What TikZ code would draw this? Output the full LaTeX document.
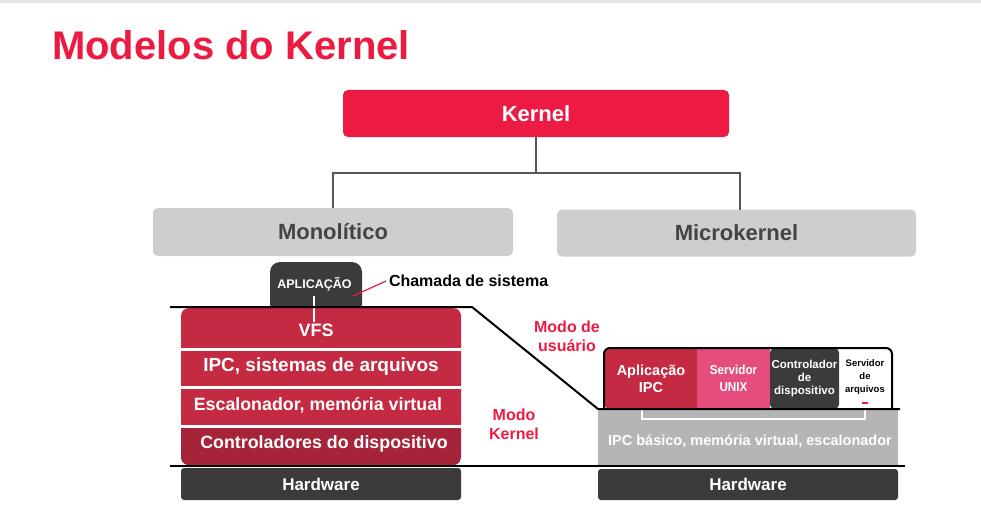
\documentclass[tikz,border=0pt]{standalone}
\usepackage{fontspec}
\setmainfont{Liberation Sans}
\newfontfamily\narrowfont[FakeStretch=0.9]{Liberation Sans}
\usetikzlibrary{calc}
\definecolor{titlered}{HTML}{EC1B42}
\definecolor{kernelred}{HTML}{ED1A43}
\definecolor{boxgray}{HTML}{CECECE}
\definecolor{textgray}{HTML}{444444}
\definecolor{conngray}{HTML}{555555}
\definecolor{stackred}{HTML}{C52A43}
\definecolor{stackdark}{HTML}{A6243A}
\definecolor{darkbox}{HTML}{3B3B3B}
\definecolor{pinkcell}{HTML}{E54E7C}
\definecolor{ipcgray}{HTML}{B5B5B5}
\definecolor{toplinegray}{HTML}{E6E6E6}
\newcommand{\fsz}[2]{\fontsize{#1}{#2}\selectfont}
\begin{document}
\begin{tikzpicture}[x=1pt,y=-1pt,
  every node/.style={inner sep=0pt, outer sep=0pt},
  catbox/.style={fill=boxgray, rounded corners=5, text=textgray, font=\bfseries\fsz{22}{26}},
  conn/.style={draw=conngray, line width=1.8pt},
  rowtext/.style={text=white, font=\bfseries\fsz{19}{22}},
  hwbox/.style={fill=darkbox, rounded corners=3, text=white, font=\bfseries\fsz{17}{20}},
  modetext/.style={text=titlered, align=center, font=\bfseries\fsz{16}{19}},
  cell/.style={minimum height=60, align=center},
  sepline/.style={draw=white, line width=3pt},
  layerline/.style={draw=black, line width=2pt}
]
\useasboundingbox (0,0) rectangle (981,508);
\fill[toplinegray] (0,0) rectangle (981,3);

% title
\node[anchor=base west, text=titlered, font=\bfseries\fsz{40}{48}] (title) at (52,60) {Modelos do Kernel};

% hierarchy
\node[fill=kernelred, rounded corners=5, minimum width=386, minimum height=47, text=white, font=\bfseries\fsz{22}{26}] (kernel) at (536,113.5) {Kernel};
\node[catbox, minimum width=360, minimum height=48] (mono) at (333,232) {Monolítico};
\node[catbox, minimum width=359, minimum height=47] (micro) at (736.5,233) {Microkernel};
\draw[conn] (kernel.south) -- ++(0,36) coordinate (jn) -| ([xshift=0pt]mono.north);
\draw[conn] (jn) -| ([xshift=3.5pt]micro.north);

% monolithic stack
\node[fill=darkbox, rounded corners=10, minimum width=92, minimum height=52] (app) at (316,288) {};
\node[text=white, font=\bfseries\fsz{12.5}{15}] (apptxt) at (314.5,284) {APLICAÇÃO};
\node[anchor=west, inner sep=3pt, font=\bfseries\fsz{16}{19}] (chamada) at (386,281) {Chamada de sistema};
\coordinate (callpt) at (353,296);
\draw[titlered, line width=1.2pt] (callpt) -- (chamada.west);

\node[fill=stackred, rounded corners=8, minimum width=280, minimum height=157] (stack) at (321,386.5) {};
\begin{scope}
  \clip[rounded corners=8] (181,308) rectangle (461,465);
  \fill[stackdark] (181,427) rectangle (461,465);
\end{scope}
\draw[sepline] (181,349.5) -- (461,349.5);
\draw[sepline] (181,387) -- (461,387);
\draw[sepline] (181,426.5) -- (461,426.5);
\coordinate (appfoot) at (314,296);
\draw[white, line width=1.2pt] (appfoot) -- (314,322);
\node[rowtext, font=\bfseries\fsz{18}{21}] (vfs) at (316,330) {VFS};
\node[rowtext] (ipcfs) at (321,367) {IPC, sistemas de arquivos};
\node[rowtext, font=\bfseries\fsz{17.8}{21}] (escal) at (318,405) {Escalonador, memória virtual};
\node[rowtext, font=\bfseries\fsz{17.8}{21}] (ctrl1) at (324,444) {Controladores do dispositivo};
\node[hwbox, minimum width=280, minimum height=32] (hw1) at (321,484) {Hardware};

% mode labels
\node[modetext] (usr) at (567,336) {Modo de\\usuário};
\node[modetext] (kmode) at (514,424) {Modo\\Kernel};

% microkernel
\node[fill=ipcgray, minimum width=300, minimum height=56] (ipcb) at (748,438) {};
\node[text=white, font=\bfseries\fsz{14.5}{17}] (ipcbt) at (750,441) {IPC básico, memória virtual, escalonador};
\begin{scope}
  \clip[rounded corners=6] (604,348) rectangle (892,409);
  \fill[white] (604,348) rectangle (892,409);
  \node[cell, fill=stackred, minimum width=92, text=white, font=\bfseries\fsz{14.5}{17}] (aipc) at (651,378.5) {Aplicação\\IPC};
  \node[cell, fill=pinkcell, minimum width=73, text=white, font=\narrowfont\bfseries\fsz{13}{17}] (unix) at (733.5,378.5) {Servidor\\UNIX};
  \node[cell, fill=darkbox, rounded corners=4, minimum width=69, text=white, font=\bfseries\fsz{11.5}{13}] (ctrl2) at (804.5,378.5) {Controlador\\de\\dispositivo};
  \node[cell, minimum width=52, text=black, font=\bfseries\fsz{9.5}{13}] (arq) at (865,377.5) {Servidor\\de\\arquivos};
\end{scope}
\draw[black, line width=2pt, rounded corners=6] (604,409) -- (604,348) -- (892,348) -- (892,409);
\fill[titlered] (862,401.5) rectangle (868,404);
\draw[white, line width=1.5pt] (642,410) -- (642,419) -- (865,419) -- (865,405);
\node[hwbox, minimum width=300, minimum height=31] (hw2) at (748,484.5) {Hardware};

% mode boundary lines
\draw[layerline] (170,307) -- (472,307) -- (598,409) -- (900,409);
\draw[layerline] (170,466) -- (905,466);
\end{tikzpicture}
\end{document}
